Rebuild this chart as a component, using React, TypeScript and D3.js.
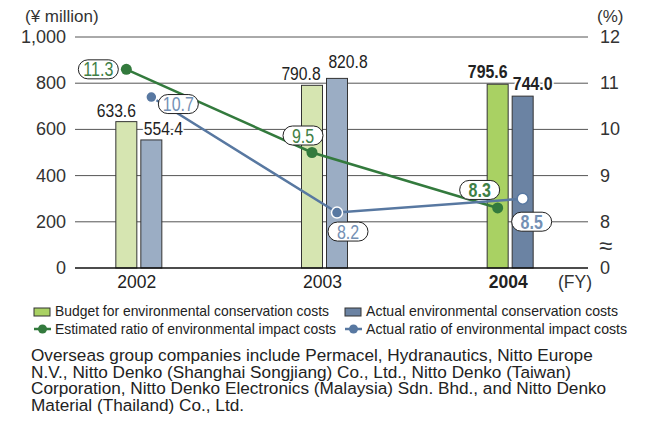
import React from 'react';
import * as d3 from "d3";

const years = ["2002", "2003", "2004"];
const budget = [633.6, 790.8, 795.6];
const actual = [554.4, 820.8, 744.0];
const estRatio = [11.3, 9.5, 8.3];
const actRatio = [10.7, 8.2, 8.5];
const leftTicks = [0, 200, 400, 600, 800, 1000];
const rightTicks = [8, 9, 10, 11, 12];
const legendBars = ["Budget for environmental conservation costs", "Actual environmental conservation costs"];
const legendLines = ["Estimated ratio of environmental impact costs", "Actual ratio of environmental impact costs"];
const note = [
    "Overseas group companies include Permacel, Hydranautics, Nitto Europe",
    "N.V., Nitto Denko (Shanghai Songjiang) Co., Ltd., Nitto Denko (Taiwan)",
    "Corporation, Nitto Denko Electronics (Malaysia) Sdn. Bhd., and Nitto Denko",
    "Material (Thailand) Co., Ltd.",
];

const SANS = "'Liberation Sans', Arial, sans-serif";

// colours: older years pale, latest year bright
const budgetFill = ["#d6e5b1", "#d6e5b1", "#a9d163"];
const actualFill = ["#9badc4", "#9badc4", "#6b83a3"];
const green = "#337a3d";
const blue = "#5878a1";
const greenText = "#3f8046";
const blueText = "#7490b4";

// label nudges (layout only)
const budgetLblOff = [[-10, -5], [-11, -5], [-10, -6]];
const actualLblOff = [[12, -5], [11, -10], [10, -6]];
const estPillOff = [[-28, 0], [-9, -17], [-18, -18]];
const actPillOff = [[27, 7], [11, 19], [9, 23]];
const legendWidths = [[274, 252], [281, 261]];

const left = 75, right = 588, top = 37, bottom = 268;

const x = d3.scaleBand().domain(years).range([46, 603]);
const sub = d3.scaleBand().domain(["budget", "actual"]).range([-23, 23]).paddingInner(0.16);
const y = d3.scaleLinear().domain([0, 1000]).range([bottom, top]);
const yr = d3.scaleLinear().domain([7, 12]).range([bottom, top]);

const cx = (yr0: string) => (x(yr0) as number) + x.bandwidth() / 2;
const bx = (yr0: string, k: string) => cx(yr0) + (sub(k) as number);
const px = (yr0: string, k: string) => bx(yr0, k) + sub.bandwidth() / 2;

// condensed text: squeeze horizontally around its anchor
function Narrow(props: any) {
    const {x, y, sx, children, ...rest} = props;
    return (
        <text transform={`translate(${x},${y}) scale(${sx},1)`} fontFamily={SANS} {...rest}>{children}</text>
    );
}

function Pill(props: {x: number, y: number, text: string, color: string, bold: boolean}) {
    const w = 40, h = 19;
    return (
        <g>
            <rect x={props.x - w / 2} y={props.y - h / 2} width={w} height={h} rx={9.5}
                  fill="#fff" stroke="#222" strokeWidth={1}/>
            <Narrow x={props.x} y={props.y + 7} sx={0.82} textAnchor="middle" fontSize={19.5}
                    fontWeight={props.bold ? "bold" : "normal"} fill={props.color}>{props.text}</Narrow>
        </g>
    );
}

export default function App() {
    const estLine = d3.line<number>().x((d, i) => px(years[i], "budget")).y(d => yr(d));
    const actLine = d3.line<number>().x((d, i) => px(years[i], "actual")).y(d => yr(d));
    const last = years.length - 1;

    return (
        <svg width={661} height={425} style={{position: "absolute", left: 0, top: 0}}>
            <rect width={661} height={425} fill="#fff"/>
            {/* axis titles */}
            <text x={25} y={22} fontFamily={SANS} fontSize={17} fill="#333">(¥ million)</text>
            <text x={597} y={22} fontFamily={SANS} fontSize={17} fill="#333">(%)</text>

            {/* gridlines */}
            {leftTicks.filter(t => t > 0).map(t => (
                <line key={t} x1={left} x2={right} y1={y(t)} y2={y(t)} stroke="#555" strokeWidth={1}/>
            ))}
            {leftTicks.map(t => (
                <text key={"l" + t} x={66} y={y(t) + 6} textAnchor="end" fontFamily={SANS} fontSize={18}
                      fill="#333">{d3.format(",")(t)}</text>
            ))}
            {rightTicks.map(t => (
                <text key={"r" + t} x={600} y={yr(t) + 6} fontFamily={SANS} fontSize={18}
                      fill="#333">{t}</text>
            ))}
            <text x={600} y={y(0) + 6} fontFamily={SANS} fontSize={18} fill="#333">0</text>
            <text x={599} y={254} fontFamily={SANS} fontSize={24} fill="#333">≈</text>

            {/* bars */}
            {years.map((yr0, i) => (
                <g key={yr0}>
                    <rect x={bx(yr0, "budget")} y={y(budget[i])} width={sub.bandwidth()}
                          height={y(0) - y(budget[i])} fill={budgetFill[i]} stroke="#333" strokeWidth={1}/>
                    <rect x={bx(yr0, "actual")} y={y(actual[i])} width={sub.bandwidth()}
                          height={y(0) - y(actual[i])} fill={actualFill[i]} stroke="#333" strokeWidth={1}/>
                </g>
            ))}
            <line x1={left} x2={right} y1={y(0)} y2={y(0)} stroke="#111" strokeWidth={1.6}/>

            {/* bar values */}
            {years.map((yr0, i) => (
                <g key={"v" + yr0} fill="#222"
                   style={{paintOrder: "stroke"}} stroke="#fff" strokeWidth={4} strokeLinejoin="round">
                    <Narrow x={px(yr0, "budget") + budgetLblOff[i][0]} y={y(budget[i]) + budgetLblOff[i][1]}
                            sx={i === last ? 0.88 : 0.87} fontSize={18} fontWeight={i === last ? "bold" : "normal"}
                            textAnchor="middle">{budget[i].toFixed(1)}</Narrow>
                    <Narrow x={px(yr0, "actual") + actualLblOff[i][0]} y={y(actual[i]) + actualLblOff[i][1]}
                            sx={i === last ? 0.88 : 0.87} fontSize={18} fontWeight={i === last ? "bold" : "normal"}
                            textAnchor="middle">{actual[i].toFixed(1)}</Narrow>
                </g>
            ))}

            {/* year labels */}
            {years.map((yr0, i) => (
                <text key={"x" + yr0} x={cx(yr0) - 2} y={288} textAnchor="middle" fontFamily={SANS} fontSize={17.5}
                      fontWeight={i === last ? "bold" : "normal"} fill="#222">{yr0}</text>
            ))}
            <text x={558} y={288} fontFamily={SANS} fontSize={17.5} fill="#333">(FY)</text>

            {/* ratio lines */}
            <path d={estLine(estRatio) as string} fill="none" stroke={green} strokeWidth={2.5}/>
            <path d={actLine(actRatio) as string} fill="none" stroke={blue} strokeWidth={2.5}/>
            {estRatio.map((v, i) => (
                <circle key={"e" + i} cx={px(years[i], "budget")} cy={yr(v)} r={5.5} fill={green}/>
            ))}
            {actRatio.map((v, i) => (
                <circle key={"a" + i} cx={px(years[i], "actual")} cy={yr(v)} r={5.5}
                        fill={i === last ? "#fff" : blue} stroke={i === last ? blue : "#fff"} strokeWidth={1.5}/>
            ))}
            {estRatio.map((v, i) => (
                <Pill key={"ep" + i} x={px(years[i], "budget") + estPillOff[i][0]} y={yr(v) + estPillOff[i][1]}
                      text={v.toFixed(1)} color={greenText} bold={i === last}/>
            ))}
            {actRatio.map((v, i) => (
                <Pill key={"ap" + i} x={px(years[i], "actual") + actPillOff[i][0]} y={yr(v) + actPillOff[i][1]}
                      text={v.toFixed(1)} color={blueText} bold={i === last}/>
            ))}

            {/* legend */}
            {legendBars.map((t, i) => (
                <g key={"lb" + i} transform={`translate(${i === 0 ? 34 : 345},308)`}>
                    <rect x={0} y={0} width={16} height={8} fill={i === 0 ? budgetFill[last] : actualFill[last]}
                          stroke="#333" strokeWidth={1}/>
                    <text x={21} y={8} fontFamily={SANS} fontSize={15} fill="#222" textLength={legendWidths[0][i]}
                          lengthAdjust="spacingAndGlyphs">{t}</text>
                </g>
            ))}
            {legendLines.map((t, i) => (
                <g key={"ll" + i} transform={`translate(${i === 0 ? 34 : 345},329)`}>
                    <line x1={0} x2={17} y1={0} y2={0} stroke={i === 0 ? green : blue} strokeWidth={2.5}/>
                    <circle cx={8.5} cy={0} r={4.5} fill={i === 0 ? green : blue}/>
                    <text x={21} y={5} fontFamily={SANS} fontSize={15} fill="#222" textLength={legendWidths[1][i]}
                          lengthAdjust="spacingAndGlyphs">{t}</text>
                </g>
            ))}

            {/* note */}
            {note.map((t, i) => (
                <text key={"n" + i} x={31} y={361 + i * 16.7} fontFamily={SANS} fontSize={17.2} fill="#222">{t}</text>
            ))}
        </svg>
    );
}
